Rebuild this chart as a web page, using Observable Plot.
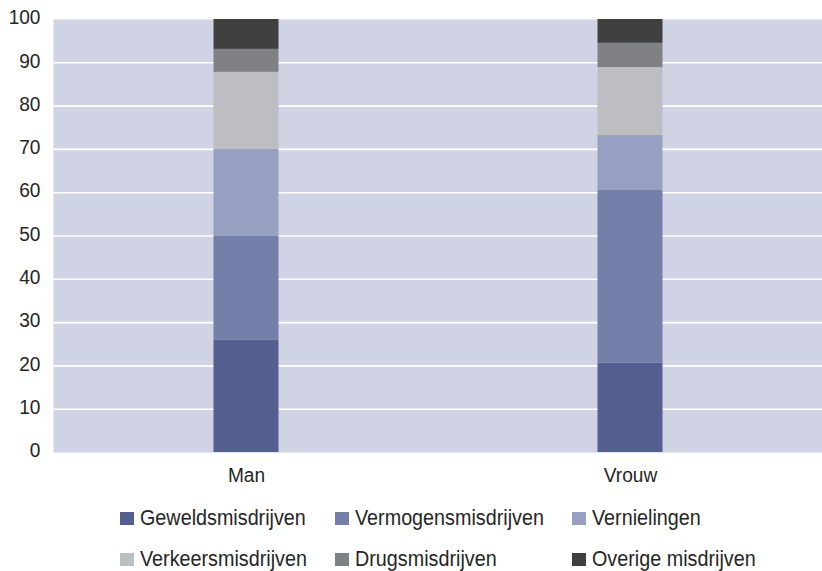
<!DOCTYPE html>
<html>
<head>
<meta charset="utf-8">
<script src="https://cdn.jsdelivr.net/npm/d3@7"></script>
<script src="https://cdn.jsdelivr.net/npm/@observablehq/plot@0.6"></script>
<style>
  html, body { margin: 0; padding: 0; background: #fff; }
  body { width: 822px; height: 571px; overflow: hidden; font-family: "Liberation Sans", Arial, sans-serif; }
  svg { display: block; }
</style>
</head>
<body>
<div id="chart"></div>
<div id="legend"></div>
<script>
const categories = ["Man", "Vrouw"];
const seriesNames = ["Geweldsmisdrijven", "Vermogensmisdrijven", "Vernielingen", "Verkeersmisdrijven", "Drugsmisdrijven", "Overige misdrijven"];
const geweld = [25.9, 20.6];
const vermogen = [24.0, 39.9];
const vernieling = [20.1, 12.7];
const verkeer = [17.8, 15.7];
const drugs = [5.3, 5.6];
const overig = [6.9, 5.5];
const colors = ["#525f8f", "#737fa8", "#97a0c0", "#bdbec2", "#808185", "#404040"];
const yTicks = [0, 10, 20, 30, 40, 50, 60, 70, 80, 90, 100];
const gridTicks = [10, 20, 30, 40, 50, 60, 70, 80, 90];

const seriesValues = [geweld, vermogen, vernieling, verkeer, drugs, overig];
const data = [];
seriesNames.forEach((s, i) => categories.forEach((c, j) => data.push({cat: c, series: s, value: seriesValues[i][j]})));

const FONT = "'Liberation Sans', Arial, sans-serif";
const chart = Plot.plot({
  width: 822,
  height: 490,
  marginTop: 19,
  marginBottom: 38,
  marginLeft: 53,
  marginRight: 0,
  style: {fontFamily: FONT, fontSize: "21px", color: "#262626", background: "#fff"},
  x: {domain: categories, padding: 0, label: null},
  y: {domain: [0, 100], label: null},
  color: {domain: seriesNames, range: colors},
  marks: [
    Plot.frame({fill: "#d0d3e4", stroke: null}),
    Plot.ruleY(gridTicks, {stroke: "#fff", strokeWidth: 1.6}),
    Plot.barY(data, {x: "cat", y: "value", fill: "series", insetLeft: 159.5, insetRight: 159.5}),
    Plot.axisY({ticks: yTicks, tickSize: 0, tickPadding: 13, label: null, fontSize: 21, dy: -2}),
    Plot.axisX({tickSize: 0, tickPadding: 15, label: null, fontSize: 21})
  ]
});
document.getElementById("chart").appendChild(chart);
// slightly condensed type, as in the reference
d3.select(chart).selectAll('g[aria-label$="tick label"] text').each(function() {
  const t = this.getAttribute("transform") || "";
  this.setAttribute("transform", t + " scale(0.91,1)");
});

// legend below the chart
const legendCols = [120, 335, 572];
const legendRows = [35, 76];
const lg = d3.select("#legend").append("svg").attr("width", 822).attr("height", 81)
  .style("font-family", FONT).style("font-size", "21.5px");
seriesNames.forEach((s, i) => {
  const x = legendCols[i % 3], y = legendRows[Math.floor(i / 3)];
  const g = lg.append("g").attr("transform", `translate(${x},${y})`);
  g.append("rect").attr("x", 0).attr("y", -13).attr("width", 14).attr("height", 13).attr("fill", colors[i]);
  g.append("text").attr("transform", "translate(20,0) scale(0.92,1)").attr("fill", "#262626").text(s);
});
</script>
</body>
</html>
